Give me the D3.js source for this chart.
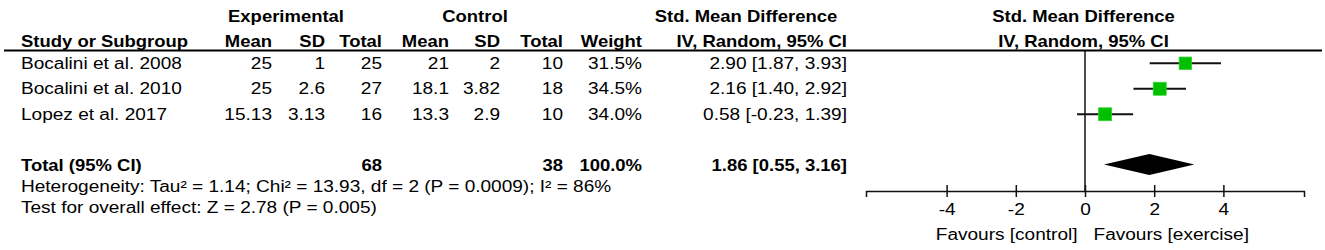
<!DOCTYPE html>
<html><head><meta charset="utf-8">
<script src="https://cdn.jsdelivr.net/npm/d3@7"></script>
<style>
body{margin:0;background:#fff}
svg text{font-family:"Liberation Sans",Arial,sans-serif;font-size:16px;fill:#000}
</style></head><body>
<svg id="c" width="1325" height="250"></svg>
<script>
// ---- data ----
const studies = ["Bocalini et al. 2008","Bocalini et al. 2010","Lopez et al. 2017"];
const expMean = ["25","25","15.13"];
const expSD = ["1","2.6","3.13"];
const expTotal = ["25","27","16"];
const ctlMean = ["21","18.1","13.3"];
const ctlSD = ["2","3.82","2.9"];
const ctlTotal = ["10","18","10"];
const weights = [31.5, 34.5, 34.0];
const smd = [2.90, 2.16, 0.58];
const ciLow = [1.87, 1.40, -0.23];
const ciHigh = [3.93, 2.92, 1.39];
const totalLabel = "Total (95% CI)";
const totalExp = "68", totalCtl = "38", totalWeight = "100.0%";
const totalSmd = 1.86, totalLow = 0.55, totalHigh = 3.16;
const heterogeneity = "Heterogeneity: Tau\u00B2 = 1.14; Chi\u00B2 = 13.93, df = 2 (P = 0.0009); I\u00B2 = 86%";
const overallEffect = "Test for overall effect: Z = 2.78 (P = 0.005)";
const axisTicks = [-4, -2, 0, 2, 4];
const favours = ["Favours [control]", "Favours [exercise]"];
const groupHeaders = ["Experimental", "Control", "Std. Mean Difference"];
const colHeaders = ["Study or Subgroup","Mean","SD","Total","Mean","SD","Total","Weight","IV, Random, 95% CI"];
const plotHeaders = ["Std. Mean Difference", "IV, Random, 95% CI"];

// ---- layout ----
const SX = 1.19;
const svg = d3.select("#c");
const fmt = v => d3.format(".2f")(v).replace("\u2212", "-");
const ciText = (e, l, h) => `${fmt(e)} [${fmt(l)}, ${fmt(h)}]`;

const colX = {study: 21, eMean: 272, eSD: 325, eTot: 382, cMean: 449, cSD: 500, cTot: 563, w: 642, ci: 847};
const x = d3.scaleLinear().domain([-6.33, 6.33]).range([866, 1304]);
const yRow = d3.scaleBand().domain(studies).range([50.5, 127]);
const sq = d3.scaleSqrt().domain([0, 100]).range([0, 22]);

function txt(xp, yp, s, anchor, bold) {
  svg.append("text")
    .attr("transform", `translate(${xp},${yp}) scale(${bold ? SX * 0.97 : SX},1)`)
    .attr("text-anchor", anchor || "start")
    .style("font-weight", bold ? "bold" : "normal")
    .text(s);
}

// headers
txt(286, 21.7, groupHeaders[0], "middle", true);
txt(475, 21.7, groupHeaders[1], "middle", true);
txt(746, 21.7, groupHeaders[2], "middle", true);
txt(x(0) - 1.5, 21.7, plotHeaders[0], "middle", true);
const hx = [colX.study, colX.eMean, colX.eSD, colX.eTot, colX.cMean, colX.cSD, colX.cTot, colX.w, colX.ci];
colHeaders.forEach((h, i) => txt(hx[i], 46.7, h, i === 0 ? "start" : "end", true));
txt(x(0) - 1.5, 46.7, plotHeaders[1], "middle", true);

svg.append("line").attr("x1", 4).attr("x2", 1322).attr("y1", 50.5).attr("y2", 50.5)
  .attr("stroke", "#000").attr("stroke-width", 2);

// study rows
studies.forEach((s, i) => {
  const yb = yRow(s) + yRow.bandwidth() / 2 + 5.5;
  txt(colX.study, yb, s, "start");
  txt(colX.eMean, yb, expMean[i], "end");
  txt(colX.eSD, yb, expSD[i], "end");
  txt(colX.eTot, yb, expTotal[i], "end");
  txt(colX.cMean, yb, ctlMean[i], "end");
  txt(colX.cSD, yb, ctlSD[i], "end");
  txt(colX.cTot, yb, ctlTotal[i], "end");
  txt(colX.w, yb, weights[i].toFixed(1) + "%", "end");
  txt(colX.ci, yb, ciText(smd[i], ciLow[i], ciHigh[i]), "end");
});

// total rows
const totY = 171;
txt(colX.study, totY, totalLabel, "start", true);
txt(colX.eTot, totY, totalExp, "end", true);
txt(colX.cTot, totY, totalCtl, "end", true);
txt(colX.w, totY, totalWeight, "end", true);
txt(colX.ci, totY, ciText(totalSmd, totalLow, totalHigh), "end", true);
txt(colX.study, 192, heterogeneity, "start");
txt(colX.study, 213, overallEffect, "start");

// zero line
const axisY = 191;
svg.append("line").attr("x1", x(0)).attr("x2", x(0)).attr("y1", 51).attr("y2", axisY)
  .attr("stroke", "#111").attr("stroke-width", 1.5);

// whiskers and squares
const g = svg.append("g");
g.selectAll("line.ci").data(studies).join("line").attr("class", "ci")
  .attr("x1", (d, i) => x(ciLow[i])).attr("x2", (d, i) => x(ciHigh[i]))
  .attr("y1", d => yRow(d) + yRow.bandwidth() / 2).attr("y2", d => yRow(d) + yRow.bandwidth() / 2)
  .attr("stroke", "#111").attr("stroke-width", 2);
g.selectAll("rect").data(studies).join("rect")
  .attr("x", (d, i) => x(smd[i]) - sq(weights[i]) / 2)
  .attr("y", (d, i) => yRow(d) + yRow.bandwidth() / 2 - sq(weights[i]) / 2)
  .attr("width", (d, i) => sq(weights[i])).attr("height", (d, i) => sq(weights[i]))
  .attr("fill", "#00c000").attr("stroke", "#2ad12a").attr("stroke-width", 0.8);

// diamond
const dy = 164.5, dh = 10.5;
svg.append("path")
  .attr("d", `M${x(totalLow)},${dy}L${x(totalSmd)},${dy - dh}L${x(totalHigh)},${dy}L${x(totalSmd)},${dy + dh}Z`)
  .attr("fill", "#000");

// axis
const ax = svg.append("g").attr("transform", `translate(0,${axisY})`)
  .call(d3.axisBottom(x).tickValues(axisTicks).tickSizeOuter(0).tickSize(6).tickFormat(d => String(d)));
ax.attr("font-size", null).attr("font-family", null);
ax.select(".domain").attr("stroke", "#111").attr("stroke-width", 1.5);
ax.selectAll(".tick line").attr("y1", -6).attr("y2", 6).attr("stroke", "#111").attr("stroke-width", 1.5);
ax.selectAll(".tick text").attr("y", null).attr("dy", null)
  .attr("transform", `translate(0,24) scale(${SX},1)`).style("fill", "#000");

txt(x(0) - 7.5, 240, favours[0], "end");
txt(x(0) + 8.5, 240, favours[1], "start");
</script></body></html>
